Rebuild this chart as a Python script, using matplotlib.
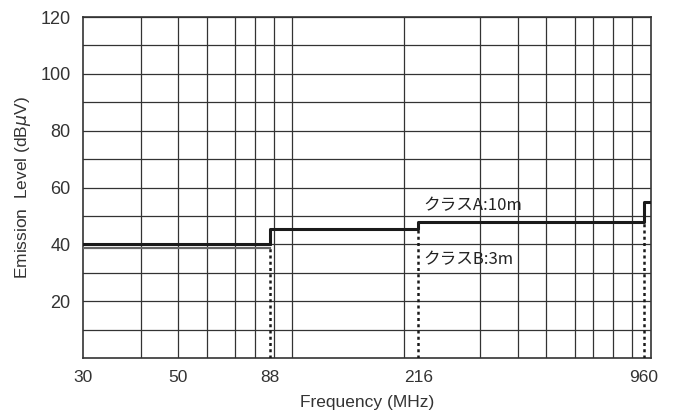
import numpy as np
import matplotlib
matplotlib.use("Agg")
import matplotlib.pyplot as plt

plt.rcParams['font.family'] = ['Liberation Sans', 'Noto Sans CJK JP', 'DejaVu Sans']

# Data
band_edges = [30, 88, 216, 960, 1000]      # MHz
limit_levels = [40, 45.5, 48, 55]          # dBuV, upper limit line
low_band_level = 38.8                      # second line in 30-88 MHz band
boundary_freqs = [88, 216, 960]
boundary_levels = [40, 45.5, 48]
xtick_values = [30, 50, 88, 216, 960]
grid_freqs = [40, 50, 60, 70, 80, 90, 100, 200, 300, 400, 500, 600, 700, 800, 900]
ytick_values = [20, 40, 60, 80, 100, 120]
label_a = "クラスA:10m"
label_b = "クラスB:3m"

# Hand drawn frequency axis: axis fraction for each grid frequency
scale_freqs = [30, 40, 50, 60, 70, 80, 90, 100, 200, 300, 400, 500, 600, 700, 800, 900, 1000]
scale_fracs = [0.0, 0.1016, 0.1667, 0.2183, 0.2676, 0.3028, 0.3357, 0.3688,
               0.5651, 0.699, 0.766, 0.815, 0.866, 0.898, 0.933, 0.9665, 1.0]
log_f = np.log10(scale_freqs)


def forward(x):
    x = np.clip(np.asarray(x, dtype=float), 1e-9, None)
    return np.interp(np.log10(x), log_f, scale_fracs, left=-1, right=2)


def inverse(y):
    return 10 ** np.interp(y, scale_fracs, log_f)


fig = plt.figure(figsize=(6.73, 4.17), dpi=100)
ax = fig.add_axes([0.1233, 0.1415, 0.844, 0.8177])
ax.set_xscale('function', functions=(forward, inverse))
ax.set_xlim(30, 1000)
ax.set_ylim(0, 120)

# grid
ax.set_xticks(xtick_values)
ax.set_xticks([], minor=True)
ax.set_yticks(ytick_values)
ax.set_yticks(np.arange(10, 120, 10), minor=True)
ax.vlines(grid_freqs, 0, 120, colors='#333333', linewidth=0.9, zorder=1)
ax.yaxis.grid(True, which='both', color='#333333', linewidth=0.9)
ax.xaxis.grid(False)
ax.tick_params(which='both', length=0)
ax.tick_params(axis='x', pad=9, labelsize=12.5, labelcolor='#333333')
ax.tick_params(axis='y', pad=9, labelsize=13, labelcolor='#333333')
for s in ax.spines.values():
    s.set_color('#333333')
    s.set_linewidth(1.2)

# limit lines
ax.step(band_edges, limit_levels + [limit_levels[-1]], where='post',
        color='#1a1a1a', linewidth=2.2, zorder=4)
ax.plot(band_edges[:2], [low_band_level] * 2, color='#666666', linewidth=1.6, zorder=3)
ax.vlines(boundary_freqs, 0, boundary_levels, colors='#1a1a1a', linewidth=1.8,
          linestyles=(0, (1.2, 1.3)), zorder=4)

ax.text(222, 53.8, label_a, fontsize=12, va='center', ha='left', color='#222222',
        family=['Noto Sans CJK JP', 'DejaVu Sans'], zorder=5)
ax.text(222, 34.8, label_b, fontsize=12, va='center', ha='left', color='#222222',
        family=['Noto Sans CJK JP', 'DejaVu Sans'], zorder=5)

ax.set_xlabel("Frequency (MHz)", fontsize=12.5, color='#333333', labelpad=7)
ax.set_ylabel("Emission  Level (dB$\\mu$V)", fontsize=12.5, color='#333333', labelpad=5)

fig.savefig("out.png", dpi=100)
